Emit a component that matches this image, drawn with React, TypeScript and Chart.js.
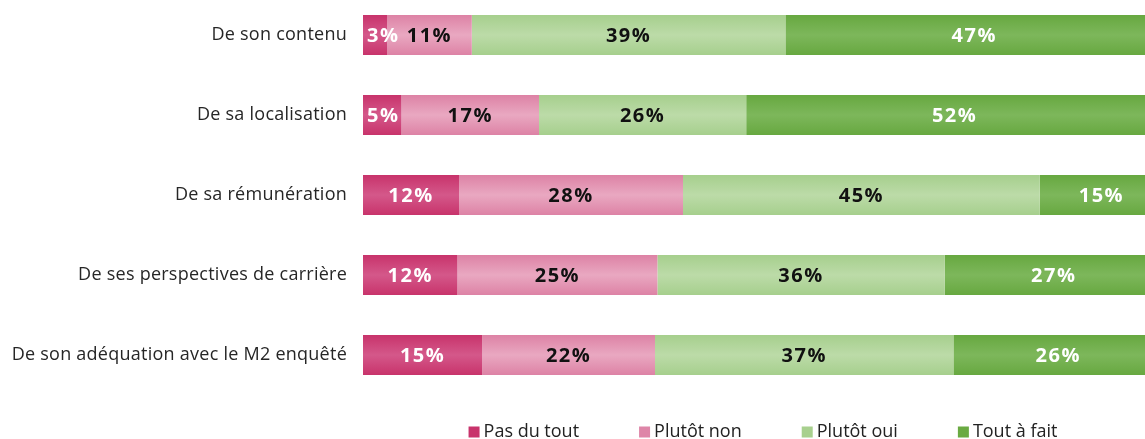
import { useEffect, useRef } from "react";
import { Chart, registerables } from "chart.js";

Chart.register(...registerables);

const categories = [
  "De son contenu",
  "De sa localisation",
  "De sa rémunération",
  "De ses perspectives de carrière",
  "De son adéquation avec le M2 enquêté",
];
const seriesNames = ["Pas du tout", "Plutôt non", "Plutôt oui", "Tout à fait"];
const pasDuTout = [3.0, 4.8, 12.0, 11.8, 14.9];
const plutotNon = [10.6, 17.2, 28.0, 25.0, 21.6];
const plutotOui = [39.2, 25.9, 44.6, 35.9, 37.3];
const toutAFait = [47.2, 52.1, 15.4, 27.3, 26.2];

const edgeColors = ["#C8336B", "#DD82A5", "#A6CF8D", "#67A840"];
const centerColors = ["#D4588A", "#E9A8C1", "#BCDBA8", "#7DB75B"];
const legendColors = ["#C8336B", "#DE86A8", "#A8D08E", "#6AAA42"];
const labelColors = ["#FFFFFF", "#111111", "#111111", "#FFFFFF"];

const FONT = "'Open Sans', 'Noto Sans', sans-serif";
const BAR_PCT = 0.5;

export default function App() {
  const ref = useRef<HTMLCanvasElement>(null);

  useEffect(() => {
    const canvas = ref.current;
    if (!canvas) return;

    const gradFill = (idx: number) => (ctx: any) => {
      const chart = ctx.chart;
      const ys = chart.scales && chart.scales.y;
      if (!ys || !chart.chartArea) return edgeColors[idx];
      const yc = ys.getPixelForValue(ctx.dataIndex);
      const half = ((ys.bottom - ys.top) / categories.length) * BAR_PCT / 2;
      const g = chart.ctx.createLinearGradient(0, yc - half, 0, yc + half);
      g.addColorStop(0, edgeColors[idx]);
      g.addColorStop(0.5, centerColors[idx]);
      g.addColorStop(1, edgeColors[idx]);
      return g;
    };

    const spacing = {
      id: "spacing",
      beforeDraw(chart: any) {
        try {
          chart.ctx.letterSpacing = "0.25px";
        } catch (e) {}
      },
    };

    const barLabels = {
      id: "barLabels",
      afterDatasetsDraw(chart: any) {
        const c = chart.ctx;
        c.save();
        c.font = `bold 20px ${FONT}`;
        try {
          c.letterSpacing = "1.5px";
        } catch (e) {}
        c.textBaseline = "middle";
        chart.data.datasets.forEach((ds: any, di: number) => {
          const meta = chart.getDatasetMeta(di);
          meta.data.forEach((el: any, i: number) => {
            const v = ds.data[i] as number;
            const label = Math.round(v) + "%";
            const p = el.getProps(["x", "base", "y"], true);
            const left = Math.min(p.x, p.base);
            const w = Math.abs(p.x - p.base);
            const tw = c.measureText(label).width;
            let cx = left + w / 2;
            c.textAlign = "center";
            if (tw + 8 > w) {
              c.textAlign = "left";
              cx = left + 4;
            }
            c.fillStyle = labelColors[di];
            c.fillText(label, cx, p.y + 1);
          });
        });
        c.restore();
      },
    };

    const customLegend = {
      id: "customLegend",
      afterDraw(chart: any) {
        const c = chart.ctx;
        const area = chart.chartArea;
        c.save();
        c.font = `18px ${FONT}`;
        try {
          c.letterSpacing = "0px";
        } catch (e) {}
        c.textBaseline = "middle";
        c.textAlign = "left";
        const box = 11;
        const gapBox = 4;
        const gapItem = 60;
        const widths = seriesNames.map((n) => box + gapBox + c.measureText(n).width);
        const total = widths.reduce((a, b) => a + b, 0) + gapItem * (seriesNames.length - 1);
        let x = (area.left + area.right) / 2 - total / 2;
        const y = area.bottom + 37;
        seriesNames.forEach((n, i) => {
          c.fillStyle = legendColors[i];
          c.fillRect(x, y - box / 2, box, box);
          c.fillStyle = "#222222";
          c.fillText(n, x + box + gapBox, y);
          x += widths[i] + gapItem;
        });
        c.restore();
      },
    };

    const series = [pasDuTout, plutotNon, plutotOui, toutAFait];

    const chart = new Chart(canvas, {
      type: "bar",
      data: {
        labels: categories,
        datasets: series.map((d, i) => ({
          label: seriesNames[i],
          data: d,
          backgroundColor: gradFill(i),
          borderWidth: 0,
          barPercentage: BAR_PCT,
          categoryPercentage: 1,
        })),
      },
      options: {
        indexAxis: "y",
        responsive: false,
        animation: false,
        layout: { padding: { top: 0, bottom: 50, left: 0, right: 0 } },
        plugins: {
          legend: { display: false },
          tooltip: { enabled: false },
          title: { display: false },
        },
        scales: {
          x: {
            stacked: true,
            min: 0,
            max: 100,
            display: false,
          },
          y: {
            stacked: true,
            grid: { display: false, drawTicks: false },
            border: { display: false },
            ticks: {
              padding: 16,
              color: "#262626",
              font: { family: FONT, size: 18 },
            },
            afterFit: (s: any) => {
              s.width = 363;
              s.paddingTop = 0;
              s.paddingBottom = 0;
            },
          },
        },
      },
      plugins: [spacing, barLabels, customLegend],
    });

    return () => chart.destroy();
  }, []);

  return (
    <div
      style={{
        position: "fixed",
        left: 0,
        top: 0,
        width: 1145,
        height: 439,
        overflow: "hidden",
        background: "#ffffff",
      }}
    >
      <div style={{ position: "absolute", left: 0, top: -5, width: 1163, height: 450 }}>
        <canvas ref={ref} width={1163} height={450} style={{ width: 1163, height: 450 }} />
      </div>
    </div>
  );
}
